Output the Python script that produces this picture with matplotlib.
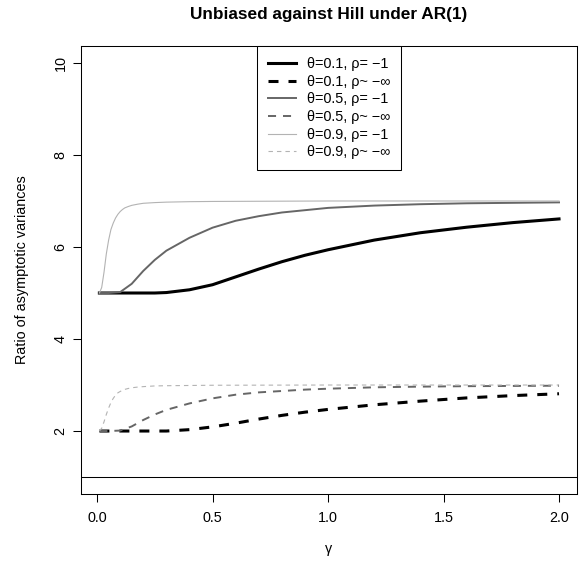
import matplotlib
matplotlib.use("Agg")
import matplotlib.pyplot as plt

plt.rcParams['font.family'] = ['Liberation Sans', 'DejaVu Sans']
plt.rcParams['lines.scale_dashes'] = False

# values
gam = [0.01, 0.05, 0.1, 0.15, 0.2, 0.25, 0.3, 0.4, 0.5, 0.6, 0.7, 0.8, 0.9,
       1.0, 1.2, 1.4, 1.6, 1.8, 2.0]
t01_r1 = [5.0, 5.0, 5.0, 5.0, 5.0, 5.0, 5.01, 5.07, 5.18, 5.35, 5.52, 5.68, 5.82,
          5.94, 6.15, 6.31, 6.43, 6.53, 6.61]
t01_rinf = [2.0, 2.0, 2.0, 2.0, 2.0, 2.0, 2.0, 2.03, 2.09, 2.17, 2.26, 2.34, 2.41,
            2.47, 2.57, 2.65, 2.72, 2.77, 2.81]
t05_r1 = [5.0, 5.0, 5.02, 5.2, 5.48, 5.72, 5.92, 6.2, 6.42, 6.57, 6.67, 6.75, 6.8,
          6.85, 6.9, 6.93, 6.95, 6.96, 6.97]
t05_rinf = [2.0, 2.0, 2.01, 2.1, 2.24, 2.36, 2.46, 2.6, 2.71, 2.79, 2.84, 2.87, 2.9,
            2.92, 2.95, 2.965, 2.975, 2.98, 2.985]

gam9 = [0.01, 0.02, 0.03, 0.04, 0.05, 0.06, 0.07, 0.08, 0.09, 0.10, 0.11, 0.12,
        0.135, 0.15, 0.175, 0.20, 0.25, 0.30, 0.40, 0.50, 1.0, 1.5, 2.0]
t09_r1 = [5.0, 5.12, 5.45, 5.85, 6.15, 6.38, 6.52, 6.63, 6.71, 6.77, 6.815, 6.85,
          6.88, 6.905, 6.93, 6.95, 6.965, 6.975, 6.985, 6.99, 7.0, 7.0, 7.0]
t09_rinf = [2.0, 2.06, 2.2, 2.36, 2.5, 2.62, 2.71, 2.78, 2.83, 2.86, 2.885, 2.905,
            2.925, 2.94, 2.955, 2.965, 2.98, 2.985, 2.99, 2.995, 3.0, 3.0, 3.0]

labels = ['θ=0.1, ρ= −1', 'θ=0.1, ρ~ −∞', 'θ=0.5, ρ= −1',
          'θ=0.5, ρ~ −∞', 'θ=0.9, ρ= −1', 'θ=0.9, ρ~ −∞']

W, H = 584, 565
fs = 10.4
fig = plt.figure(figsize=(W / 100, H / 100), dpi=100)
ax = fig.add_axes([81 / W, 1 - 493.6 / H, (577.4 - 81) / W, (493.6 - 46.4) / H])

black, mid, light = '#000000', '#666666', '#b3b3b3'
ax.plot(gam, t01_r1, color=black, lw=2.2, label=labels[0])
ax.plot(gam, t01_rinf, color=black, lw=2.2, dashes=(7.2, 7.2), label=labels[1])
ax.plot(gam, t05_r1, color=mid, lw=1.4, label=labels[2])
ax.plot(gam, t05_rinf, color=mid, lw=1.4, dashes=(5.8, 5.0), label=labels[3])
ax.plot(gam9, t09_r1, color=light, lw=0.8, label=labels[4])
ax.plot(gam9, t09_rinf, color=light, lw=0.8, dashes=(3.2, 2.9), label=labels[5])
ax.axhline(1, color='black', lw=0.75)

ax.set_xlim(-0.0696, 2.0796)
ax.set_ylim(0.64, 10.36)
ax.set_xticks([0.0, 0.5, 1.0, 1.5, 2.0])
ax.set_xticklabels(['0.0', '0.5', '1.0', '1.5', '2.0'])
ax.set_yticks([2, 4, 6, 8, 10])
for s in ax.spines.values():
    s.set_linewidth(0.75)
ax.tick_params(length=5.8, width=0.75, labelsize=fs)
ax.tick_params(axis='x', pad=7)
ax.tick_params(axis='y', pad=4)
for t in ax.get_yticklabels():
    t.set_rotation(90)
    t.set_va('center')

fig.text(329 / W, 1 - 549 / H, 'γ', ha='center', va='center', fontsize=fs)
fig.text(22 / W, 1 - 270 / H, 'Ratio of asymptotic variances', rotation=90,
         ha='center', va='center', fontsize=fs)
fig.text(329 / W, 1 - 14 / H, 'Unbiased against Hill under AR(1)', ha='center',
         va='center', fontsize=12.4, fontweight='bold')

leg = ax.legend(loc='upper center', bbox_to_anchor=(0.5, 1.0), borderaxespad=0,
                fancybox=False, edgecolor='black', framealpha=1, fontsize=fs,
                handlelength=1.95, handletextpad=0.7, labelspacing=0.25,
                borderpad=0.75)
leg.get_frame().set_linewidth(0.75)

fig.savefig('out.png', dpi=100)
